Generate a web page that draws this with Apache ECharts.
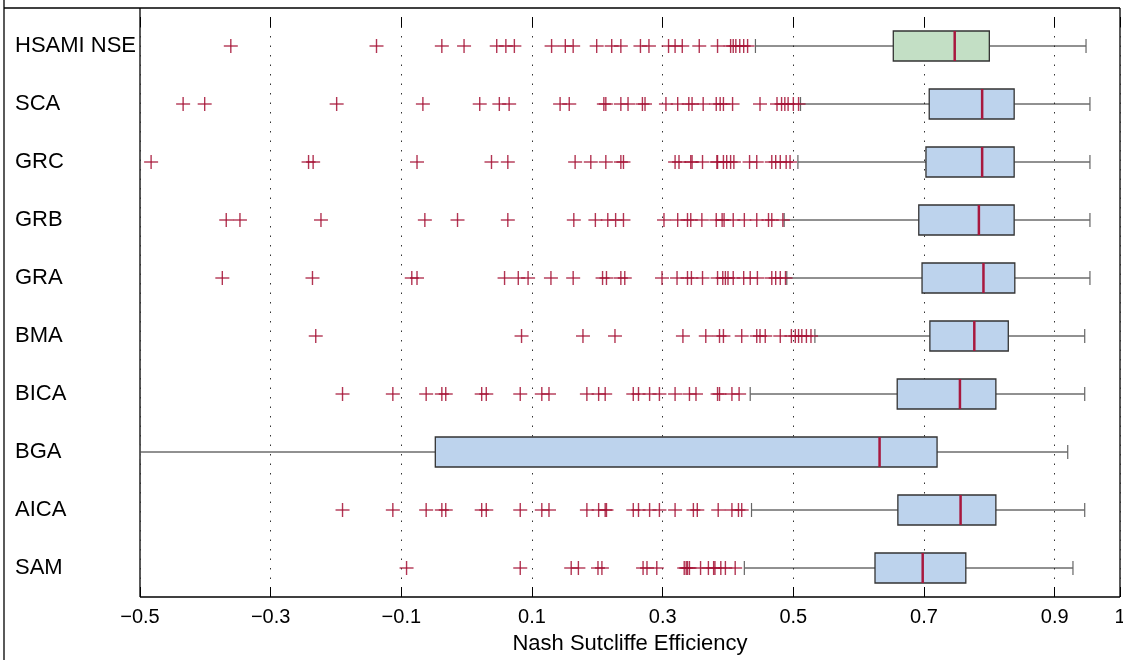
<!DOCTYPE html>
<html><head><meta charset="utf-8">
<script src="https://cdn.jsdelivr.net/npm/echarts@6/dist/echarts.min.js"></script>
<style>html,body{margin:0;padding:0;background:#fff}#c{width:1123px;height:660px}</style>
</head><body><div id="c"></div>
<script>
const categories = ['HSAMI NSE','SCA','GRC','GRB','GRA','BMA','BICA','BGA','AICA','SAM'];
const whiskerLow  = [0.442, 0.511, 0.507, 0.486, 0.490, 0.533, 0.434, -0.5,  0.436, 0.425];
const q1          = [0.653, 0.708, 0.703, 0.692, 0.697, 0.709, 0.659, -0.048, 0.660, 0.625];
const median      = [0.747, 0.789, 0.789, 0.784, 0.791, 0.777, 0.755, 0.632, 0.756, 0.698];
const q3          = [0.800, 0.838, 0.838, 0.838, 0.839, 0.829, 0.810, 0.720, 0.810, 0.764];
const whiskerHigh = [0.948, 0.954, 0.954, 0.954, 0.954, 0.946, 0.946, 0.920, 0.946, 0.928];

const outHSAMI = [-0.361,-0.138,-0.038,-0.004,0.046,0.060,0.073,0.130,0.151,0.163,0.199,0.222,0.236,0.266,0.279,0.309,0.319,0.330,0.356,0.384,0.404,0.408,0.412,0.418,0.424,0.430];
const outSCA = [-0.434,-0.401,-0.199,-0.067,0.020,0.050,0.065,0.143,0.157,0.210,0.213,0.236,0.247,0.269,0.273,0.305,0.323,0.340,0.345,0.362,0.382,0.388,0.393,0.407,0.449,0.475,0.482,0.487,0.492,0.500,0.508];
const outGRC = [-0.483,-0.242,-0.235,-0.076,0.038,0.063,0.166,0.190,0.213,0.236,0.240,0.319,0.325,0.343,0.345,0.361,0.383,0.384,0.393,0.398,0.404,0.409,0.433,0.444,0.467,0.473,0.480,0.489,0.495];
const outGRB = [-0.368,-0.347,-0.223,-0.064,-0.014,0.063,0.164,0.197,0.216,0.228,0.240,0.302,0.323,0.338,0.343,0.360,0.382,0.391,0.394,0.408,0.425,0.444,0.462,0.467,0.484];
const outGRA = [-0.374,-0.236,-0.084,-0.076,0.058,0.079,0.094,0.129,0.163,0.208,0.214,0.236,0.242,0.299,0.322,0.338,0.344,0.361,0.384,0.392,0.396,0.400,0.408,0.424,0.434,0.445,0.467,0.473,0.480,0.488];
const outBMA = [-0.231,0.084,0.178,0.227,0.331,0.366,0.387,0.393,0.421,0.444,0.449,0.457,0.480,0.497,0.503,0.508,0.513,0.520,0.527];
const outBICA = [-0.190,-0.113,-0.062,-0.038,-0.032,0.023,0.030,0.082,0.115,0.126,0.184,0.202,0.212,0.255,0.263,0.280,0.295,0.319,0.341,0.351,0.384,0.387,0.406,0.417];
const outBGA = [];
const outAICA = [-0.190,-0.113,-0.062,-0.038,-0.032,0.023,0.030,0.082,0.115,0.126,0.184,0.202,0.212,0.214,0.255,0.263,0.280,0.295,0.319,0.347,0.353,0.385,0.406,0.416,0.421];
const outSAM = [-0.092,0.082,0.160,0.171,0.201,0.207,0.270,0.276,0.291,0.333,0.336,0.338,0.341,0.358,0.370,0.378,0.380,0.389,0.396,0.411];
const outliers = [outHSAMI, outSCA, outGRC, outGRB, outGRA, outBMA, outBICA, outBGA, outAICA, outSAM];

const boxData = categories.map((c, i) => [i, whiskerLow[i], q1[i], median[i], q3[i], whiskerHigh[i]]);
const outData = [];
outliers.forEach((arr, i) => arr.forEach(v => outData.push([v, i])));

const chart = echarts.init(document.getElementById('c'), null, {renderer: 'canvas'});
const FONT = '"Liberation Sans", Arial, Helvetica, sans-serif';
const fmt = v => Math.abs(v - 1) < 1e-9 ? '1' : (v < -1e-9 ? '\u2212' : '') + Math.abs(v).toFixed(1);

const GL = 140, GR = 1120, GT = 17, GB = 597, FT = 8;
const frame = {stroke: '#000', lineWidth: 1.3};

chart.setOption({
  animation: false,
  backgroundColor: '#fff',
  grid: {left: GL, right: 1123 - GR, top: GT, bottom: 660 - GB, show: false, containLabel: false, outerBoundsMode: 'none'},
  xAxis: [{
    type: 'value', min: -0.5, max: 1, interval: 0.2, position: 'bottom',
    axisLine: {show: false},
    axisTick: {show: true, inside: true, length: 10, lineStyle: {color: '#000', width: 1}},
    axisLabel: {formatter: fmt, color: '#000', fontSize: 20, fontFamily: FONT, margin: 10},
    splitLine: {show: true, lineStyle: {color: '#333', type: [1.5, 8], width: 1}},
    name: 'Nash Sutcliffe Efficiency', nameLocation: 'middle', nameGap: 36,
    nameTextStyle: {color: '#000', fontSize: 22, fontFamily: FONT, verticalAlign: 'top'}
  }, {
    type: 'value', min: -0.5, max: 1, interval: 0.2, position: 'top',
    axisLine: {show: false},
    axisTick: {show: true, inside: true, length: 10, lineStyle: {color: '#000', width: 1}},
    axisLabel: {show: false}, splitLine: {show: false}
  }],
  yAxis: {
    type: 'category', data: categories, inverse: true,
    axisLine: {show: false}, axisTick: {show: false}, splitLine: {show: false},
    axisLabel: {align: 'left', margin: GL - 15, color: '#000', fontSize: 22, fontFamily: FONT}
  },
  graphic: [
    {type: 'line', shape: {x1: 4, y1: 0, x2: 4, y2: 660}, style: frame, silent: true},
    {type: 'line', shape: {x1: 4, y1: FT, x2: GR, y2: FT}, style: frame, silent: true},
    {type: 'line', shape: {x1: GL, y1: FT, x2: GL, y2: GB}, style: frame, silent: true},
    {type: 'line', shape: {x1: GR, y1: FT, x2: GR, y2: GB}, style: frame, silent: true},
    {type: 'line', shape: {x1: GL, y1: GB, x2: GR, y2: GB}, style: frame, silent: true}
  ],
  series: [{
    type: 'custom',
    data: boxData,
    encode: {x: [1, 2, 3, 4, 5], y: 0},
    z: 3,
    renderItem: function (params, api) {
      const yi = api.value(0);
      const pL = api.coord([api.value(1), yi]);
      const p1 = api.coord([api.value(2), yi]);
      const pM = api.coord([api.value(3), yi]);
      const p3 = api.coord([api.value(4), yi]);
      const pH = api.coord([api.value(5), yi]);
      const y = pM[1];
      const bh = 15, ch = 7;
      const fill = yi === 0 ? '#c3dfc5' : '#bdd3ed';
      const lineStyle = {stroke: '#222', lineWidth: 1};
      return {type: 'group', children: [
        {type: 'line', shape: {x1: pL[0], y1: y, x2: p1[0], y2: y}, style: lineStyle},
        {type: 'line', shape: {x1: p3[0], y1: y, x2: pH[0], y2: y}, style: lineStyle},
        {type: 'line', shape: {x1: pL[0], y1: y - ch, x2: pL[0], y2: y + ch}, style: {stroke: '#666', lineWidth: 1.2}},
        {type: 'line', shape: {x1: pH[0], y1: y - ch, x2: pH[0], y2: y + ch}, style: {stroke: '#666', lineWidth: 1.2}},
        {type: 'rect', shape: {x: p1[0], y: y - bh, width: p3[0] - p1[0], height: 2 * bh}, style: {fill: fill, stroke: '#333', lineWidth: 1.3}},
        {type: 'line', shape: {x1: pM[0], y1: y - bh, x2: pM[0], y2: y + bh}, style: {stroke: '#a8183e', lineWidth: 2.5}}
      ]};
    }
  }, {
    type: 'custom',
    data: outData,
    encode: {x: 0, y: 1},
    z: 4,
    renderItem: function (params, api) {
      const p = api.coord([api.value(0), api.value(1)]);
      const s = 7;
      const st = {stroke: 'rgba(165,16,52,0.85)', lineWidth: 1.4};
      return {type: 'group', children: [
        {type: 'line', shape: {x1: p[0] - s, y1: p[1], x2: p[0] + s, y2: p[1]}, style: st},
        {type: 'line', shape: {x1: p[0], y1: p[1] - s, x2: p[0], y2: p[1] + s}, style: st}
      ]};
    }
  }]
});
</script></body></html>
